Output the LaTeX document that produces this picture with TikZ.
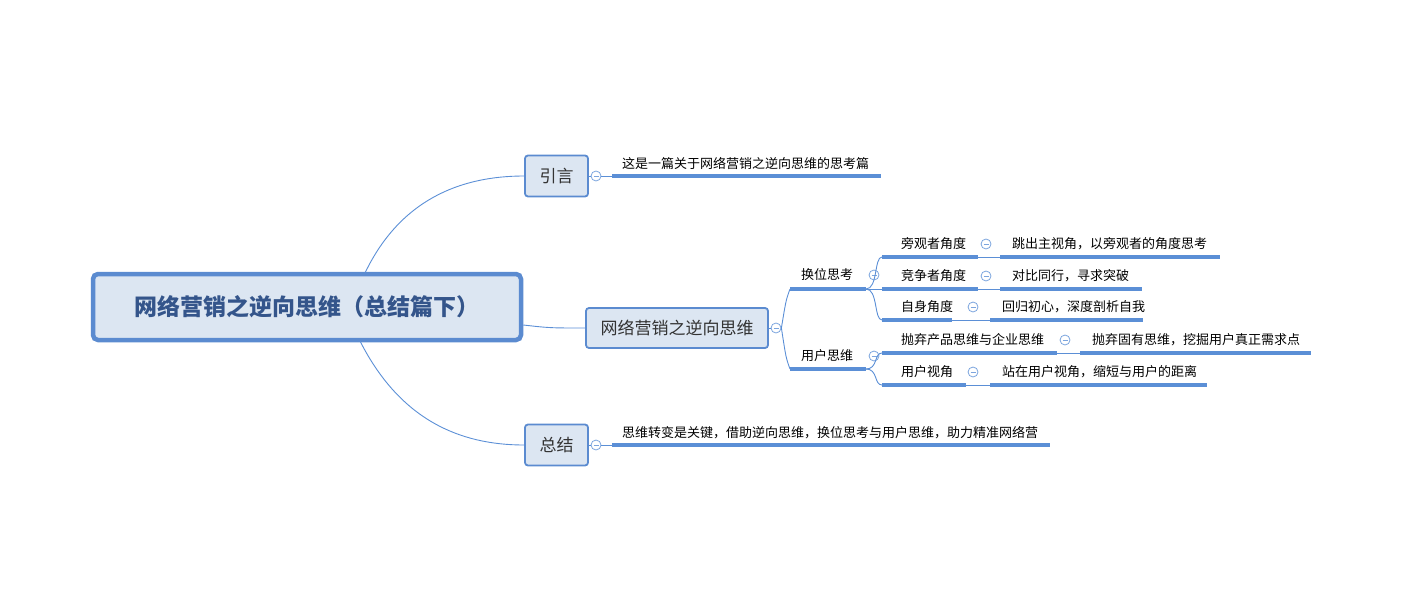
\documentclass[tikz,border=0pt]{standalone}
\usepackage{fontspec}
\setmainfont{Noto Sans CJK SC}
\begin{document}
\begin{tikzpicture}[x=1pt,y=-1pt,
  every node/.style={inner sep=0pt},
  lbl/.style={anchor=west,font=\fontsize{13}{13}\selectfont,text=black},
  box/.style={draw=boxb,line width=1.8pt,fill=boxf,rounded corners=3pt,font=\fontsize{17}{17}\selectfont,text=black!80},
  thick line/.style={draw=lineb,line width=3.2pt},
  thin line/.style={draw=lineb,line width=0.9pt},
  colc/.style={circle,draw=lineb!80,line width=0.8pt,fill=white,minimum size=10pt,
     path picture={\draw[lineb!80,line width=0.8pt]([xshift=-2.5pt]path picture bounding box.center)--([xshift=2.5pt]path picture bounding box.center);}}]
\definecolor{boxb}{HTML}{5B8BD0}
\definecolor{boxf}{HTML}{DCE6F2}
\definecolor{lineb}{HTML}{5B8FD6}
\definecolor{roott}{HTML}{34558B}
\useasboundingbox (0,0) rectangle (1406,610);
% root
\node[draw=boxb,line width=4.5pt,fill=boxf,rounded corners=5pt,minimum width=428pt,minimum height=66pt,
  font=\fontsize{23}{23}\selectfont\bfseries,text=roott] (root) at (307,307) {网络营销之逆向思维（总结篇下）};
% level 1
\node[box,minimum width=63pt,minimum height=41pt] (yy) at (556.5,176) {引言};
\node[box,minimum width=182pt,minimum height=40pt] (mid) at (677,328) {网络营销之逆向思维};
\node[box,minimum width=63pt,minimum height=41pt] (zj) at (556.5,445) {总结};
\coordinate (r1) at (365,273);
\coordinate (r3) at (360,341);
\draw[thin line] (r1) .. controls (400,200) and (460,176) .. (yy.west);
\draw[thin line] (root.east|-0,325) .. controls (550,328) .. (mid.west);
\draw[thin line] (r3) .. controls (400,420) and (460,445) .. (zj.west);
% 引言 child
\coordinate (yyA) at (612,176); \coordinate (yyB) at (881,176);
\node[colc] (cyy) at (596,176) {};
\draw[thin line] (yy.east) -- (cyy.west);
\draw[thin line] (cyy.east) -- (yyA);
\draw[thick line] (yyA) -- (yyB);
\node[lbl] (tyy) at (622,163) {这是一篇关于网络营销之逆向思维的思考篇};
% 总结 child
\coordinate (zjA) at (612,445); \coordinate (zjB) at (1050,445);
\node[colc] (czj) at (596,445) {};
\draw[thin line] (zj.east) -- (czj.west);
\draw[thin line] (czj.east) -- (zjA);
\draw[thick line] (zjA) -- (zjB);
\node[lbl] (tzj) at (622,433) {思维转变是关键，借助逆向思维，换位思考与用户思维，助力精准网络营};
% mid children
\node[colc] (cmid) at (776,328) {};
\draw[thin line] (mid.east) -- (cmid.west);
\coordinate (hA) at (790,289); \coordinate (hB) at (866,289);
\coordinate (uA) at (790,369); \coordinate (uB) at (866,369);
\draw[thin line] (cmid.east) .. controls (786,300) .. (hA);
\draw[thin line] (cmid.east) .. controls (786,358) .. (uA);
\draw[thick line] (hA) -- (hB);
\draw[thick line] (uA) -- (uB);
\node[lbl] (th) at (801,275) {换位思考};
\node[lbl] (tu) at (801,356) {用户思维};
\node[colc] (ch) at (874,275) {};
\node[colc] (cu) at (874,356) {};
\foreach \n/\y/\a/\b/\c/\t/\u/\cx in {
  p1/257/978/1000/1220/旁观者角度/跳出主视角，以旁观者的角度思考/986,
  p2/289/978/1000/1142/竞争者角度/对比同行，寻求突破/986,
  p3/320/952/990/1143/自身角度/回归初心，深度剖析自我/973,
  p4/353/1057/1080/1311/抛弃产品思维与企业思维/抛弃固有思维，挖掘用户真正需求点/1065,
  p5/385/966/990/1207/用户视角/站在用户视角，缩短与用户的距离/973}{
  \coordinate (\n s) at (882,\y);
  \coordinate (\n e) at (\a,\y);
  \coordinate (\n f) at (\b,\y);
  \coordinate (\n g) at (\c,\y);
  \draw[thick line] (\n s) -- (\n e);
  \draw[thin line] (\n e) -- (\n f);
  \draw[thick line] (\n f) -- (\n g);
  \node[lbl] (\n t) at (901,\y-13) {\t};
  \node[lbl] (\n u) at (\b+12,\y-13) {\u};
  \node[colc] (\n c) at (\cx,\y-13) {};
}
\draw[thin line] (hB) .. controls (878,289) and (874,257) .. (p1s);
\draw[thin line] (hB) -- (p2s);
\draw[thin line] (hB) .. controls (878,289) and (874,320) .. (p3s);
\draw[thin line] (uB) .. controls (878,369) and (874,353) .. (p4s);
\draw[thin line] (uB) .. controls (878,369) and (874,385) .. (p5s);
\end{tikzpicture}
\end{document}
